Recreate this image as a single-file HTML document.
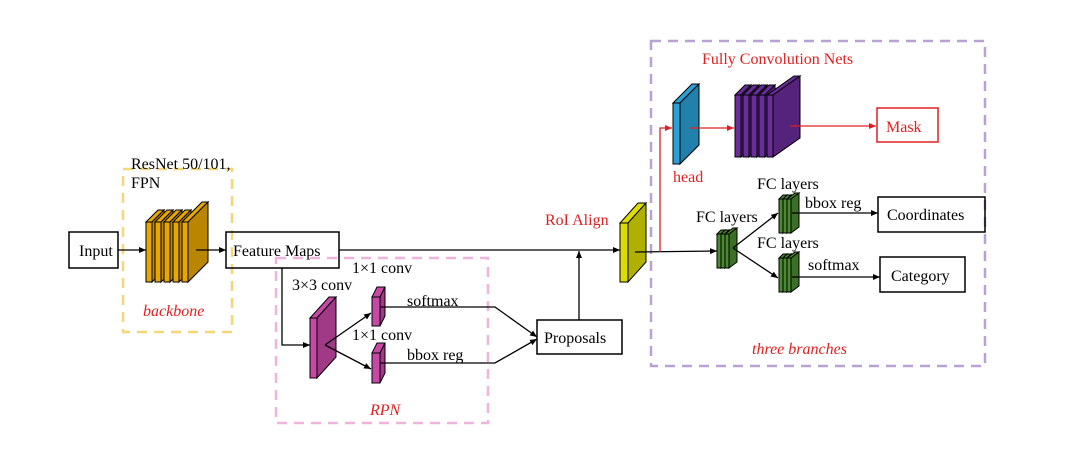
<!DOCTYPE html>
<html><head><meta charset="utf-8"><style>
html,body{margin:0;padding:0;background:#fff;}
svg{display:block;font-family:"Liberation Serif",serif;}
</style></head><body>
<svg id="s" width="1080" height="474" viewBox="0 0 1080 474" xmlns="http://www.w3.org/2000/svg">
<defs>
<marker id="ab" markerWidth="8" markerHeight="8" refX="7" refY="4" orient="auto" markerUnits="userSpaceOnUse"><path d="M0,1 L7,4 L0,7 Z" fill="#000"/></marker>
<marker id="ar" markerWidth="8" markerHeight="8" refX="7" refY="4" orient="auto" markerUnits="userSpaceOnUse"><path d="M0,1 L7,4 L0,7 Z" fill="#e02020"/></marker>
</defs>
<!-- dashed boxes -->
<rect x="123" y="169" width="109" height="163" fill="none" stroke="#f5d77a" stroke-width="2.5" stroke-dasharray="10,7"/>
<rect x="276" y="258" width="212" height="165" fill="none" stroke="#f0b4dc" stroke-width="2.5" stroke-dasharray="10,7"/>
<rect x="651" y="41" width="334" height="325" fill="none" stroke="#b9a1d4" stroke-width="2.5" stroke-dasharray="10,7"/>
<g id="slabs"></g>
<!-- boxes -->
<g fill="none" stroke="#000" stroke-width="1.5">
<rect x="69" y="232" width="49" height="36"/>
<rect x="226" y="232" width="113" height="36"/>
<rect x="537" y="320" width="85" height="34"/>
<rect x="878" y="197" width="107" height="35"/>
<rect x="880" y="257" width="85" height="35"/>
</g>
<rect x="877" y="108" width="61" height="34" fill="none" stroke="#e02020" stroke-width="1.5"/>
<!-- connectors -->
<g stroke="#000" stroke-width="1.3" fill="none">
<line x1="118" y1="250" x2="146" y2="250" marker-end="url(#ab)"/>
<line x1="196" y1="250" x2="226" y2="250" marker-end="url(#ab)"/>
<line x1="339" y1="250" x2="620" y2="250" marker-end="url(#ab)"/>
<polyline points="282,268 282,345 310,345" marker-end="url(#ab)"/>
<line x1="325" y1="345" x2="371" y2="313" marker-end="url(#ab)"/>
<line x1="325" y1="345" x2="371" y2="369" marker-end="url(#ab)"/>
<polyline points="380,307 495,307 537,337" marker-end="url(#ab)"/>
<polyline points="380,363 495,363 537,339" marker-end="url(#ab)"/>
<line x1="579" y1="320" x2="579" y2="251" marker-end="url(#ab)"/>
<line x1="635" y1="252" x2="717" y2="251" marker-end="url(#ab)"/>
<line x1="733" y1="248" x2="778" y2="213" marker-end="url(#ab)"/>
<line x1="733" y1="248" x2="778" y2="278" marker-end="url(#ab)"/>
<line x1="792" y1="213" x2="878" y2="213" marker-end="url(#ab)"/>
<line x1="792" y1="277" x2="880" y2="277" marker-end="url(#ab)"/>
</g>
<g stroke="#e02020" stroke-width="1.3" fill="none">
<polyline points="660,252 660,128 672,128" marker-end="url(#ar)"/>
<line x1="690" y1="128" x2="734" y2="128" marker-end="url(#ar)"/>
<line x1="790" y1="126" x2="876" y2="126" marker-end="url(#ar)"/>
</g>
<!-- text -->
<g font-size="16" fill="#000">
<text x="79" y="256">Input</text>
<text x="233" y="256">Feature Maps</text>
<text x="544" y="343">Proposals</text>
<text x="887" y="220">Coordinates</text>
<text x="891" y="281">Category</text>
<text x="131" y="169">ResNet 50/101,</text>
<text x="131" y="188">FPN</text>
<text x="352" y="273">1×1 conv</text>
<text x="292" y="290">3×3 conv</text>
<text x="407" y="306">softmax</text>
<text x="352" y="340">1×1 conv</text>
<text x="407" y="360">bbox reg</text>
<text x="757" y="189">FC layers</text>
<text x="696" y="222">FC layers</text>
<text x="805" y="208">bbox reg</text>
<text x="757" y="248">FC layers</text>
<text x="808" y="270">softmax</text>
</g>
<g font-size="16" fill="#e02020">
<text x="886" y="132">Mask</text>
<text x="702" y="64">Fully Convolution Nets</text>
<text x="673" y="182">head</text>
<text x="545" y="225">RoI Align</text>
<g font-style="italic">
<text x="143" y="316">backbone</text>
<text x="370" y="415">RPN</text>
<text x="752" y="354">three branches</text>
</g>
</g>
</svg>
<script>
var g=document.getElementById('slabs'),NS='http://www.w3.org/2000/svg';
function sh(c,f){var r=parseInt(c.slice(1,3),16),gg=parseInt(c.slice(3,5),16),b=parseInt(c.slice(5,7),16);return 'rgb('+Math.round(r*f)+','+Math.round(gg*f)+','+Math.round(b*f)+')';}
function poly(p,fill){var e=document.createElementNS(NS,'polygon');e.setAttribute('points',p);e.setAttribute('fill',fill);e.setAttribute('stroke','#000');e.setAttribute('stroke-width','1');g.appendChild(e);}
function slab(x,y,w,h,dx,dy,c){
 poly([x,y,x+w,y,x+w+dx,y-dy,x+dx,y-dy].join(','),sh(c,1.1>1?1:1));
 poly([x+w,y,x+w+dx,y-dy,x+w+dx,y+h-dy,x+w,y+h].join(','),sh(c,0.8));
 poly([x,y,x+w,y,x+w,y+h,x,y+h].join(','),c);
}
function stack(xs,y,w,h,dx,dy,c){for(var i=xs.length-1;i>=0;i--)slab(xs[i],y,w,h,dx,dy,c);}
// backbone
for(var i=0;i<5;i++){}
[146,155,165,174,184].forEach(function(x,i,a){});
(function(){var xs=[146,155,164,173,182];for(var i=0;i<xs.length;i++){slab(xs[i],222,6,60,i==4?20:12,i==4?20:12,'#e8a800');}})();
// magenta
slab(310,318,7,60,19,21,'#c848a8');
slab(372,297,8,29,5,10,'#c848a8');
slab(372,353,8,30,5,10,'#c848a8');
// yellow
slab(620,223,8,59,18,20,'#dcdc00');
// head
slab(673,103,7,61,19,19,'#2aa0d8');
// purple
(function(){var xs=[735,743,751,759,767];for(var i=0;i<xs.length;i++){slab(xs[i],95,6,62,i==4?27:10,i==4?19:10,'#6a2c9a');}})();
// green clusters
function green(x,y){for(var i=0;i<3;i++)slab(x+i*4,y,4,34,i==2?8:4,i==2?6:4,'#4a8a30');}
green(717,234);green(779,199);green(779,258);
</script>
</body></html>
